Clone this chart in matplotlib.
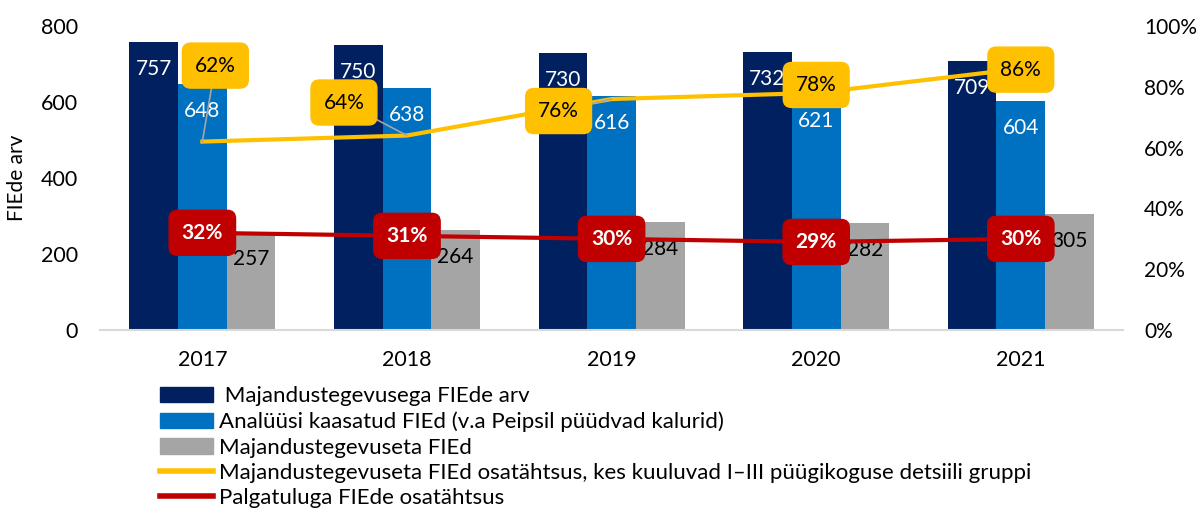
import numpy as np
import matplotlib.pyplot as plt
from matplotlib.patches import Patch
from matplotlib.lines import Line2D

plt.rcParams['font.family'] = ['Lato', 'DejaVu Sans']

# data
years = ['2017', '2018', '2019', '2020', '2021']
fie_active = [757, 750, 730, 732, 709]
fie_analysed = [648, 638, 616, 621, 604]
fie_inactive = [257, 264, 284, 282, 305]
share_inactive_low = [62, 64, 76, 78, 86]   # %
share_wage = [32, 31, 30, 29, 30]           # %

labels = [' Majandustegevusega FIEde arv',
          'Analüüsi kaasatud FIEd (v.a Peipsil püüdvad kalurid)',
          'Majandustegevuseta FIEd',
          'Majandustegevuseta FIEd osatähtsus, kes kuuluvad I–III püügikoguse detsiili gruppi',
          'Palgatuluga FIEde osatähtsus']

c_dark = '#002060'
c_blue = '#0070C0'
c_gray = '#A5A5A5'
c_yel = '#FFC000'
c_red = '#C00000'

fig = plt.figure(figsize=(11.98, 5.11), dpi=100, facecolor='white')
ax = fig.add_axes([0.0835, 0.354, 0.854, 0.595])
x = np.arange(len(years))
w = 0.238

ax.bar(x - w, fie_active, w, color=c_dark, zorder=2)
ax.bar(x, fie_analysed, w, color=c_blue, zorder=2)
ax.bar(x + w, fie_inactive, w, color=c_gray, zorder=2)

for xs, vals, col in [(x - w, fie_active, 'white'), (x, fie_analysed, 'white'),
                      (x + w, fie_inactive, 'black')]:
    for xi, v in zip(xs, vals):
        ax.annotate(str(v), (xi, v), xytext=(0, -27), textcoords='offset pixels',
                    ha='center', va='center', color=col, fontsize=15, zorder=3)

ax.set_xlim(-0.5, len(years) - 0.5)
ax.set_ylim(0, 800)
ax.set_yticks([0, 200, 400, 600, 800])
ax.set_xticks(x)
ax.set_xticklabels(years)
ax.tick_params(axis='both', length=0, labelsize=15.5)
ax.tick_params(axis='x', pad=14)
ax.tick_params(axis='y', pad=16)
ax.set_ylabel('FIEde arv', fontsize=15, labelpad=10)
for s in ['top', 'right', 'left']:
    ax.spines[s].set_visible(False)
ax.spines['bottom'].set_color('#D9D9D9')
ax.spines['bottom'].set_linewidth(1.5)

ax2 = ax.twinx()
ax2.set_ylim(0, 100)
ax2.set_yticks([0, 20, 40, 60, 80, 100])
ax2.set_yticklabels([f'{t}%' for t in [0, 20, 40, 60, 80, 100]])
ax2.tick_params(axis='y', length=0, labelsize=15, pad=15)
for s in ax2.spines.values():
    s.set_visible(False)

ax2.plot(x, share_inactive_low, color=c_yel, lw=3, zorder=4)
ax2.plot(x, share_wage, color=c_red, lw=3, zorder=4)

# yellow callouts, offsets in pixels from the point
yel_off = [(13, 76), (-63, 33), (-53, -12), (0, 8), (0, -1)]
yel_leader = [True, True, True, False, False]
for xi, v, (dx, dy), lead in zip(x, share_inactive_low, yel_off, yel_leader):
    ap = dict(arrowstyle='-', color='#A6A6A6', lw=1.2, shrinkA=0, shrinkB=0) if lead else None
    ax2.annotate(f'{v}%', (xi, v), xytext=(dx, dy), textcoords='offset pixels',
                 ha='center', va='center', fontsize=15, color='black', zorder=6,
                 bbox=dict(boxstyle='round,pad=0.6,rounding_size=0.4', fc=c_yel, ec=c_yel),
                 arrowprops=ap)

for xi, v in zip(x, share_wage):
    ax2.annotate(f'{v}%', (xi, v), xytext=(0, 0), textcoords='offset pixels',
                 ha='center', va='center', fontsize=15, color='white', fontweight='bold',
                 zorder=6,
                 bbox=dict(boxstyle='round,pad=0.6,rounding_size=0.4', fc=c_red, ec=c_red))

handles = [Patch(color=c_dark), Patch(color=c_blue), Patch(color=c_gray),
           Line2D([], [], color=c_yel, lw=4), Line2D([], [], color=c_red, lw=4)]
fig.legend(handles, labels, loc='upper left', bbox_to_anchor=(0.1336, 0.244),
           frameon=False, fontsize=16, handlelength=2.4, handleheight=0.72,
           handletextpad=0.25, labelspacing=0.24, borderpad=0, borderaxespad=0)

fig.savefig('out.png', dpi=100)
